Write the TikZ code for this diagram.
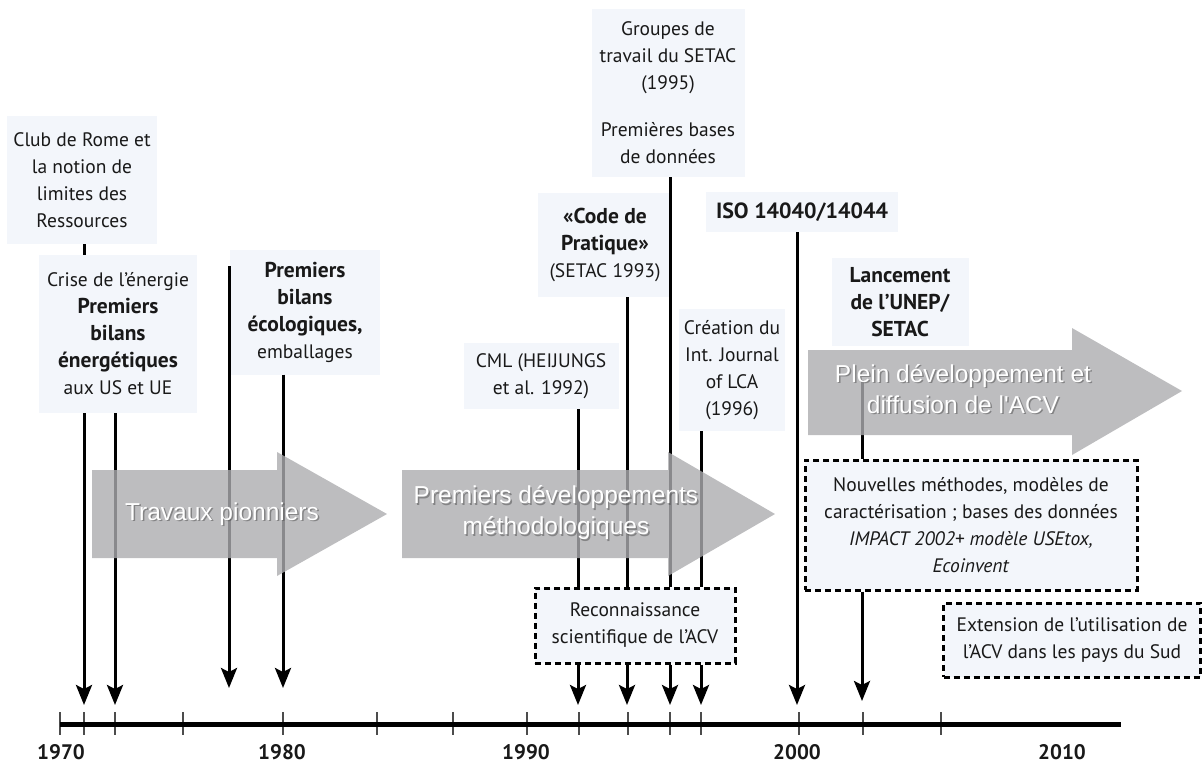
\documentclass[tikz,border=0pt]{standalone}
\usepackage{fontspec}
\setmainfont{PT Sans}
\newfontfamily\arrowfont{Liberation Sans}
\usetikzlibrary{arrows.meta}
\definecolor{boxfill}{RGB}{243,246,251}
\definecolor{arrgrey}{RGB}{172,172,175}
\definecolor{txt}{RGB}{25,25,25}
\newcommand\bigb[1]{{\fontsize{21.5}{27}\selectfont\bfseries #1}}
\begin{document}
\begin{tikzpicture}[x=1pt,y=-1pt,
  tbox/.style={align=center, fill=boxfill, inner sep=0pt, text=txt, font=\fontsize{19.5}{27}\selectfont},
  dbox/.style={tbox, draw=black, line width=3pt, dash pattern=on 6pt off 4pt},
  vline/.style={line width=3pt, black},
  arr/.style={vline, -{Stealth[length=20pt,width=16pt,inset=4pt]}},
  tickmark/.style={line width=1.3pt, black!70},
  year/.style={font=\fontsize{21}{25}\selectfont\bfseries, text=txt, inner sep=0pt},
  bigarrow/.style={fill=arrgrey, fill opacity=0.8, draw=none},
  atext/.style={align=center, font=\arrowfont\fontsize{24.5}{31}\selectfont, text=white, inner sep=0pt},
  ashadow/.style={atext, text=black!70, text opacity=0.5},
]
\useasboundingbox (0,0) rectangle (1204,764);

% ---------- text boxes ----------
\node[tbox, minimum width=150pt, minimum height=128pt] (club) at (82,180) {Club de Rome et\\la notion de\\limites des\\Ressources};
\node[tbox, minimum width=158pt, minimum height=158pt] (crise) at (118,334) {Crise de l'énergie\\\bigb{Premiers}\\\bigb{bilans}\\\bigb{énergétiques}\\aux US et UE};
\node[tbox, minimum width=150pt, minimum height=125pt] (ecol) at (305,312) {\bigb{Premiers}\\\bigb{bilans}\\\bigb{écologiques,}\\emballages};
\node[tbox, minimum width=155pt, minimum height=66pt] (cml) at (541,376) {CML (HEIJUNGS\\et al. 1992)};
\node[tbox, minimum width=134pt, minimum height=104pt] (code) at (605,245) {\bigb{«Code de}\\\bigb{Pratique»}\\(SETAC 1993)};
\node[tbox, minimum width=153pt, minimum height=168pt] (groupes) at (668,93) {Groupes de\\travail du SETAC\\(1995)\\[20pt]Premières bases\\de données};
\node[tbox, minimum width=106pt, minimum height=122pt] (creation) at (732,370) {Création du\\Int. Journal\\of LCA\\(1996)};
\node[tbox, minimum width=192pt, minimum height=40pt, font=\fontsize{22}{27}\selectfont\bfseries] (iso) at (802,212) {ISO 14040/14044};
\node[tbox, minimum width=137pt, minimum height=88pt] (lance) at (900,302) {\bigb{Lancement}\\\bigb{de l'UNEP/}\\\bigb{SETAC}};

% ---------- axis ----------
\coordinate (ax0) at (60,724);
\coordinate (ax1) at (1121,724);
\foreach \x in {60,84,115,183,283,377,453,527,579,628,670,701,799,863,941}
  \draw[tickmark] (\x,712) -- (\x,735);
\draw[line width=5pt] (ax0) -- (ax1);

\node[year] (y70) at (61,752) {1970};
\node[year] (y80) at (282,752) {1980};
\node[year] (y90) at (526,752) {1990};
\node[year] (y00) at (797,752) {2000};
\node[year] (y10) at (1062,752) {2010};

% ---------- coordinates for connectors ----------
\coordinate (p71) at (84,705);
\coordinate (p72) at (115,705);
\coordinate (s77) at (229,266);
\coordinate (p77) at (229,688);
\coordinate (p80) at (283,688);
\coordinate (p92) at (578,705);
\coordinate (p93) at (627,705);
\coordinate (p95) at (670,705);
\coordinate (p96) at (701,705);
\coordinate (p00) at (797,705);
\coordinate (s02) at (862,380);
\coordinate (p02) at (862,701);

% ---------- dashed boxes ----------
\node[dbox, minimum width=332pt, minimum height=130pt] (nouv) at (971,525) {Nouvelles méthodes, modèles de\\caractérisation ; bases des données\\\textit{IMPACT 2002+ modèle USEtox,}\\\textit{Ecoinvent}};
\node[dbox, minimum width=257pt, minimum height=74pt] (ext) at (1072,640) {Extension de l'utilisation de\\l'ACV dans les pays du Sud};
\node[dbox, minimum width=200pt, minimum height=75pt] (reco) at (635,625.5) {Reconnaissance\\scientifique de l'ACV};

% ---------- connectors ----------
\draw[vline] (club.south -| p71) -- (crise.north -| p71);
\draw[arr] (crise.south -| p71) -- (p71);
\draw[arr] (crise.south -| p72) -- (p72);
\draw[arr] (s77) -- (p77);
\draw[arr] (ecol.south -| p80) -- (p80);
\draw[vline] (cml.south -| p92) -- (reco.north -| p92);
\draw[vline] (code.south -| p93) -- (reco.north -| p93);
\draw[vline] (groupes.south -| p95) -- (reco.north -| p95);
\draw[vline] (creation.south -| p96) -- (reco.north -| p96);
\draw[arr] (reco.south -| p92) -- (p92);
\draw[arr] (reco.south -| p93) -- (p93);
\draw[arr] (reco.south -| p95) -- (p95);
\draw[arr] (reco.south -| p96) -- (p96);
\draw[arr] (iso.south -| p00) -- (p00);
\draw[vline] (s02) -- (nouv.north -| s02);
\draw[arr] (nouv.south -| p02) -- (p02);

% ---------- grey phase arrows ----------
\fill[bigarrow] (92,470) -- (277,470) -- (277,452) -- (387,514) -- (277,576) -- (277,558) -- (92,558) -- cycle;
\fill[bigarrow] (402,470) -- (668,470) -- (668,452) -- (775,514) -- (668,576) -- (668,558) -- (402,558) -- cycle;
\fill[bigarrow] (808,350) -- (1072,350) -- (1072,328) -- (1182,391) -- (1072,455) -- (1072,435) -- (808,435) -- cycle;

\node[ashadow] (t1s) at (223.5,515.5) {Travaux pionniers};
\node[atext] (t1) at (222,514) {Travaux pionniers};
\node[ashadow] (t2s) at (557.5,514.5) {Premiers développements\\méthodologiques};
\node[atext] (t2) at (556,513) {Premiers développements\\méthodologiques};
\node[ashadow] (t3s) at (964.5,390.5) {Plein développement et\\diffusion de l'ACV};
\node[atext] (t3) at (963,389) {Plein développement et\\diffusion de l'ACV};
\end{tikzpicture}
\end{document}
